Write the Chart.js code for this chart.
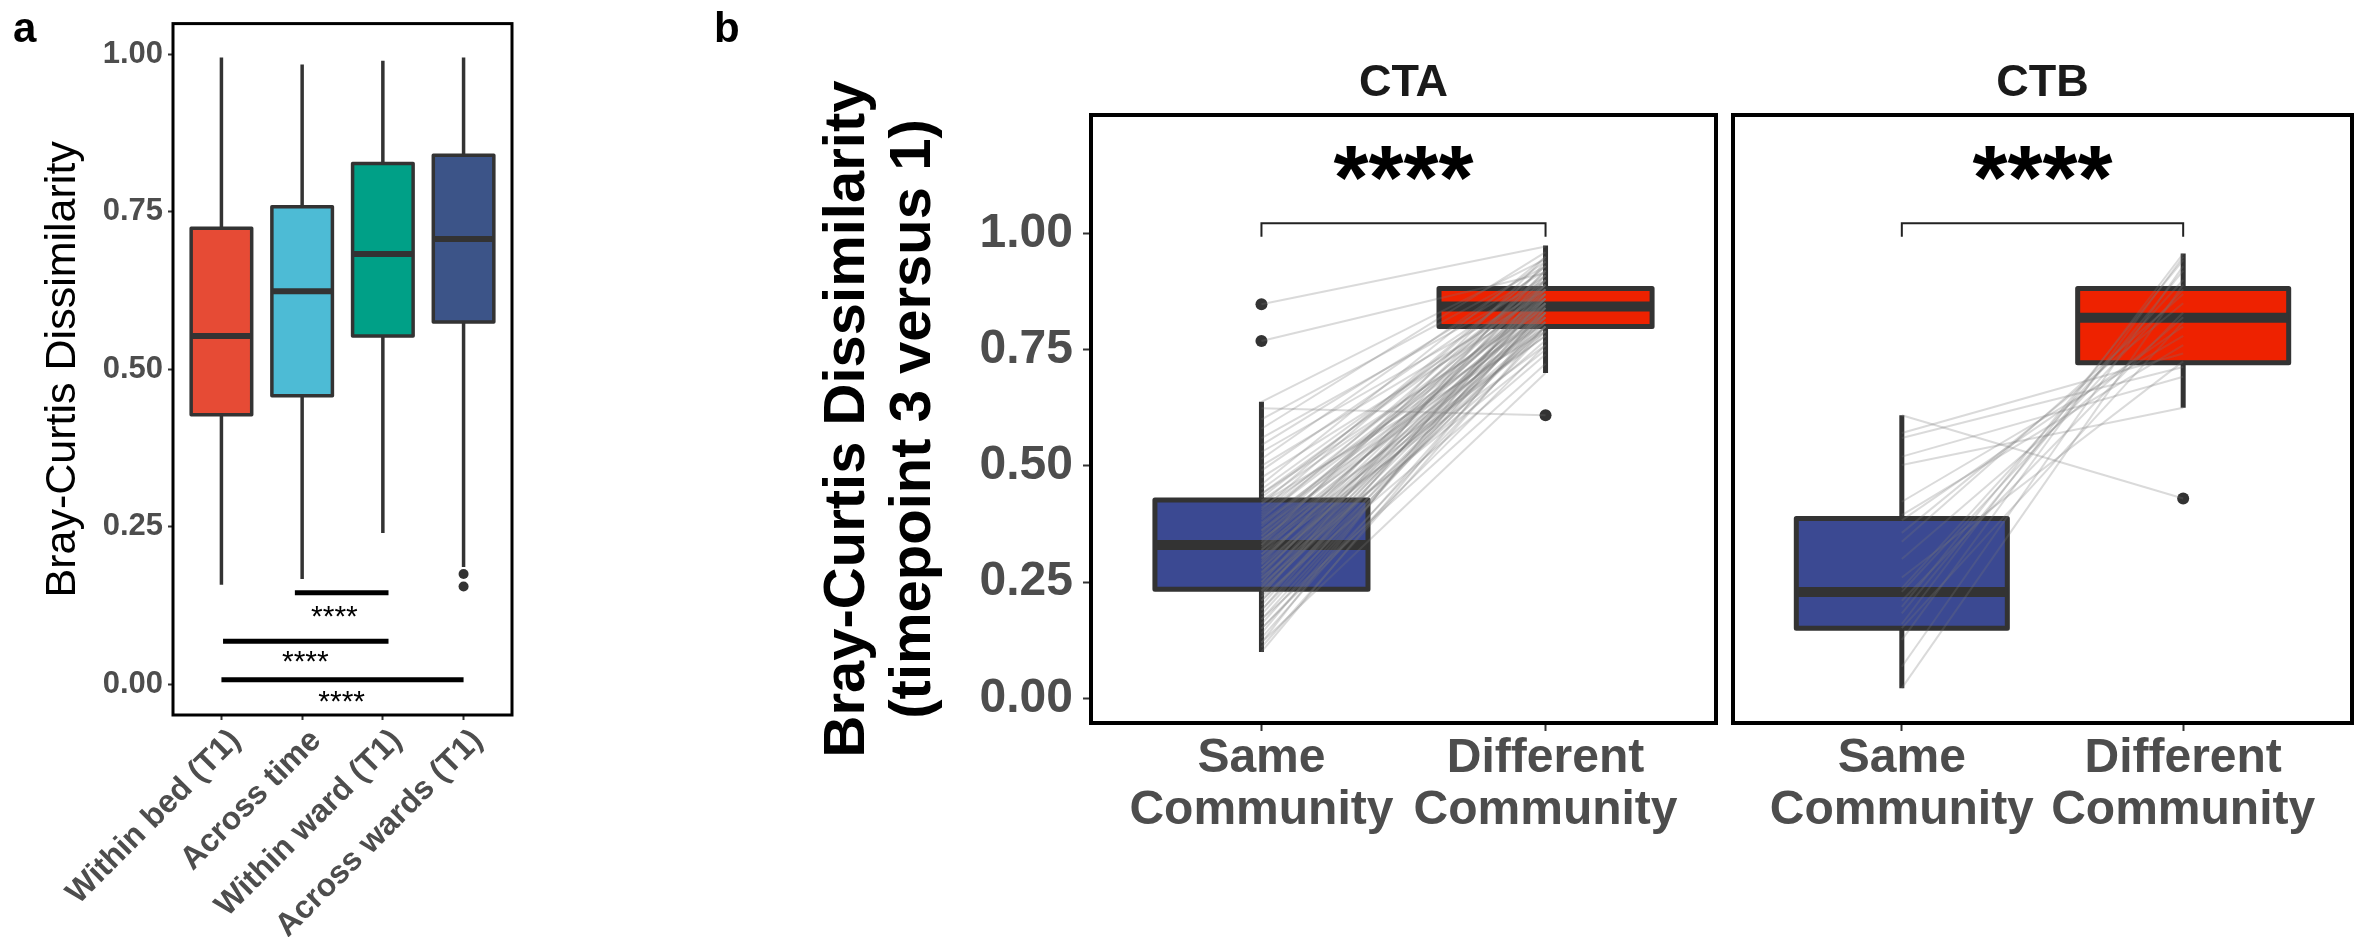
<!DOCTYPE html>
<html>
<head>
<meta charset="utf-8">
<script src="https://cdn.jsdelivr.net/npm/chart.js@4.4.1/dist/chart.umd.min.js"></script>
<style>
  html, body { margin: 0; padding: 0; background: #fff; }
  #wrap { position: relative; width: 2358px; height: 937px; overflow: hidden; }
  canvas { position: absolute; top: 0; }
</style>
</head>
<body>
<div id="wrap">
  <canvas id="chartA" width="530" height="937" style="left:0px"></canvas>
  <canvas id="chartCTA" width="1022" height="937" style="left:700px"></canvas>
  <canvas id="chartCTB" width="636" height="937" style="left:1722px"></canvas>
</div>
<script>
// ---- panel a : pairwise Bray-Curtis by comparison type ----
const catA = ['Within bed (T1)', 'Across time', 'Within ward (T1)', 'Across wards (T1)'];
const posA = [1, 2, 3, 4];
const lowA = [0.158, 0.167, 0.240, 0.186];
const q1A = [0.428, 0.458, 0.553, 0.575];
const medA = [0.553, 0.624, 0.683, 0.707];
const q3A = [0.724, 0.758, 0.827, 0.840];
const highA = [0.995, 0.984, 0.990, 0.995];
const outXA = [4, 4];
const outYA = [0.175, 0.155];
const sigFromA = [1.91, 1.02, 1.00];
const sigToA = [3.07, 3.07, 4.00];
const sigYA = [0.145, 0.068, 0.007];
const sigTextXA = [2.40, 2.04, 2.49];
const sigTextYA = [0.115, 0.044, -0.019];
const sigTextA = ['****', '****', '****'];

// ---- panel b : CTA / CTB, timepoint 3 vs 1 ----
const yTicks = [0, 0.25, 0.5, 0.75, 1];
const catB = [['Same', 'Community'], ['Different', 'Community']];
const posB = [1, 2];

const ctaLow = [0.100, 0.700];
const ctaQ1 = [0.235, 0.800];
const ctaMed = [0.330, 0.843];
const ctaQ3 = [0.427, 0.882];
const ctaHigh = [0.638, 0.974];
const ctaOutX = [1, 1, 2];
const ctaOutY = [0.848, 0.769, 0.609];

const ctbLow = [0.022, 0.625];
const ctbQ1 = [0.151, 0.722];
const ctbMed = [0.229, 0.819];
const ctbQ3 = [0.387, 0.882];
const ctbHigh = [0.609, 0.957];
const ctbOutX = [2];
const ctbOutY = [0.430];

// paired samples (same community value -> different community value)
const ctaSame = [0.848, 0.769, 0.638, 0.624, 0.60, 0.58, 0.56, 0.545, 0.53, 0.515, 0.50, 0.49, 0.475, 0.46, 0.45, 0.44, 0.432,
  0.425, 0.418, 0.41, 0.40, 0.395, 0.385, 0.378, 0.37, 0.362, 0.355, 0.348, 0.342, 0.336,
  0.33, 0.325, 0.318, 0.31, 0.302, 0.295, 0.288, 0.28, 0.272, 0.265, 0.258, 0.25, 0.245, 0.238,
  0.232, 0.225, 0.218, 0.21, 0.20, 0.19, 0.18, 0.17, 0.16, 0.15, 0.14, 0.13, 0.12, 0.11, 0.10,
  0.44, 0.42, 0.405, 0.39, 0.375, 0.36, 0.35, 0.34, 0.33, 0.32, 0.31, 0.30, 0.29, 0.28, 0.27,
  0.26, 0.25, 0.24, 0.23, 0.22, 0.21, 0.19, 0.17, 0.15, 0.12];
const ctaDiff = [0.972, 0.915, 0.945, 0.609, 0.93, 0.96, 0.90, 0.92, 0.88, 0.94, 0.87, 0.91, 0.86, 0.95, 0.89, 0.84, 0.90,
  0.85, 0.93, 0.82, 0.88, 0.86, 0.91, 0.83, 0.87, 0.80, 0.89, 0.845, 0.78, 0.92,
  0.85, 0.81, 0.87, 0.76, 0.84, 0.88, 0.79, 0.86, 0.83, 0.90, 0.82, 0.87, 0.77, 0.84,
  0.80, 0.86, 0.74, 0.83, 0.88, 0.81, 0.85, 0.72, 0.84, 0.79, 0.87, 0.82, 0.70, 0.80, 0.83,
  0.88, 0.79, 0.93, 0.85, 0.81, 0.90, 0.86, 0.83, 0.95, 0.78, 0.89, 0.82, 0.92, 0.80, 0.85,
  0.75, 0.91, 0.86, 0.83, 0.94, 0.80, 0.89, 0.84, 0.76, 0.90];
const ctbSame = [0.609, 0.571, 0.560, 0.520, 0.502, 0.423, 0.394, 0.383, 0.356, 0.337, 0.300,
  0.260, 0.237, 0.229, 0.210, 0.197, 0.183, 0.160, 0.151, 0.126, 0.068, 0.022];
const ctbDiff = [0.430, 0.742, 0.713, 0.692, 0.625, 0.780, 0.760, 0.800, 0.850, 0.870, 0.820,
  0.725, 0.900, 0.880, 0.830, 0.943, 0.920, 0.957, 0.810, 0.950, 0.930, 0.890];
const bracketY = 1.022;
const bracketDrop = 0.993;
const starY = 1.151;

const DARK = '#333333';
const GREY_TXT = '#4D4D4D';
const FILL_A = ['#E64B35', '#4DBBD5', '#00A087', '#3C5488'];
const FILL_B = ['#3B4992', '#EE2200'];
const PAIR_COL = 'rgba(120,120,120,0.27)';
const BOX_HALF = 0.375;

Chart.defaults.font.family = "'Liberation Sans', Arial, sans-serif";
Chart.defaults.animation = false;
Chart.defaults.plugins.legend.display = false;
Chart.defaults.plugins.tooltip.enabled = false;
Chart.defaults.elements.point.radius = 0;
Chart.defaults.elements.line.tension = 0;

// panel border like ggplot panel.border
const frame = {
  id: 'frame',
  afterDatasetsDraw(chart, args, o) {
    const { ctx, chartArea: a } = chart;
    ctx.save();
    ctx.strokeStyle = '#000';
    ctx.lineWidth = o.width || 3;
    ctx.strokeRect(a.left, a.top, a.right - a.left, a.bottom - a.top);
    ctx.restore();
  }
};

// free text: panel letters, strip titles, significance stars
const notes = {
  id: 'notes',
  afterDraw(chart, args, o) {
    const { ctx, chartArea: ca } = chart;
    const xs = chart.scales.x, ys = chart.scales.y;
    ctx.save();
    (o.items || []).forEach(t => {
      ctx.font = t.font;
      ctx.fillStyle = t.color || '#000';
      ctx.textAlign = t.align || 'center';
      ctx.textBaseline = 'alphabetic';
      let px = t.x, py = t.y;
      if (t.data) { px = xs.getPixelForValue(t.x); py = ys.getPixelForValue(t.y); }
      if (t.strip) px = (ca.left + ca.right) / 2;
      if (t.vcenter) {
        const m = ctx.measureText(t.text);
        py += (m.actualBoundingBoxAscent - m.actualBoundingBoxDescent) / 2;
      }
      ctx.fillText(t.text, px, py);
    });
    ctx.restore();
  }
};

function boxSets(pos, low, q1, med, q3, high, fills, lw, mw) {
  const sets = [];
  pos.forEach((c, i) => {
    const h = BOX_HALF;
    sets.push({ data: [{ x: c, y: low[i] }, { x: c, y: q1[i] }, { x: c, y: null }, { x: c, y: q3[i] }, { x: c, y: high[i] }],
      borderColor: DARK, borderWidth: lw, spanGaps: false, order: 4 });
    sets.push({ data: [{ x: c - h, y: q1[i] }, { x: c + h, y: q1[i] }, { x: c + h, y: q3[i] }, { x: c - h, y: q3[i] }, { x: c - h, y: q1[i] }],
      borderColor: DARK, borderWidth: lw, backgroundColor: fills[i], fill: 'shape',
      borderJoinStyle: 'round', borderCapStyle: 'round', order: 3 });
    sets.push({ data: [{ x: c - h, y: med[i] }, { x: c + h, y: med[i] }], borderColor: DARK, borderWidth: mw, order: 2 });
  });
  return sets;
}

function outlierSet(xs, ys, r) {
  return { data: xs.map((x, i) => ({ x: x, y: ys[i] })), showLine: false, pointRadius: r,
    pointBackgroundColor: DARK, pointBorderWidth: 0, order: 1 };
}

function pairSets(same, diff) {
  return same.map((s, i) => ({ data: [{ x: posB[0], y: s }, { x: posB[1], y: diff[i] }],
    borderColor: PAIR_COL, borderWidth: 2, order: 0 }));
}

function bracketSet() {
  return { data: [{ x: posB[0], y: bracketDrop }, { x: posB[0], y: bracketY }, { x: posB[1], y: bracketY }, { x: posB[1], y: bracketDrop }],
    borderColor: '#222', borderWidth: 2, order: 0 };
}

function panel(id, datasets, cfg) {
  return new Chart(document.getElementById(id), {
    type: 'line',
    data: { datasets: datasets },
    options: {
      responsive: false,
      layout: { padding: cfg.pad },
      plugins: { filler: { drawTime: 'beforeDatasetDraw' }, frame: { width: cfg.frame }, notes: { items: cfg.notes } },
      scales: {
        x: {
          type: 'linear', min: cfg.xMin, max: cfg.xMax,
          afterBuildTicks: s => { s.ticks = cfg.xPos.map(v => ({ value: v })); },
          afterFit: s => { s.height = cfg.xH; },
          ticks: { autoSkip: false, callback: (v, i) => cfg.xLabels[i], color: GREY_TXT,
            font: cfg.xFont, padding: cfg.xPad, minRotation: cfg.rot, maxRotation: cfg.rot,
            labelOffset: cfg.xOff || 0 },
          grid: { drawOnChartArea: false, tickLength: cfg.tick, tickWidth: 2, tickColor: DARK },
          border: { display: false }
        },
        y: {
          type: 'linear', min: cfg.yMin, max: cfg.yMax, display: cfg.yShow,
          afterBuildTicks: s => { s.ticks = yTicks.map(v => ({ value: v })); },
          afterFit: s => { s.width = cfg.yW; },
          ticks: { callback: v => v.toFixed(2), color: GREY_TXT, font: cfg.yFont, padding: cfg.yPad },
          grid: { drawOnChartArea: false, tickLength: cfg.tick, tickWidth: 2, tickColor: DARK },
          border: { display: false },
          title: cfg.yTitle || { display: false }
        }
      }
    },
    plugins: [frame, notes]
  });
}

// panel a
const setsA = boxSets(posA, lowA, q1A, medA, q3A, highA, FILL_A, 3.5, 6)
  .concat([outlierSet(outXA, outYA, 5)])
  .concat(sigFromA.map((f, i) => ({ data: [{ x: f, y: sigYA[i] }, { x: sigToA[i], y: sigYA[i] }],
    borderColor: '#000', borderWidth: 5, order: 0 })));
const notesA = [{ text: 'a', x: 13, y: 42, align: 'left', font: 'bold 42px "Liberation Sans", Arial' }]
  .concat(sigTextA.map((t, i) => ({ text: t, data: true, x: sigTextXA[i], y: sigTextYA[i], vcenter: true,
    font: '30px "Liberation Sans", Arial' })));
panel('chartA', setsA, {
  pad: { top: 23, right: 18, left: 0, bottom: 0 }, frame: 3,
  xMin: 0.4, xMax: 4.6, xPos: posA, xLabels: catA, xH: 222, rot: 45, xPad: 2, xOff: 14,
  xFont: { size: 32, weight: 'bold' }, tick: 5,
  yMin: -0.049, yMax: 1.049, yShow: true, yW: 173, yPad: 5, yFont: { size: 31, weight: 'bold' },
  yTitle: { display: true, text: 'Bray-Curtis Dissimilarity', color: '#000',
    font: { size: 43, weight: 'normal', lineHeight: 1.2 }, padding: { top: 37, bottom: 0 } },
  notes: notesA
});

// panel b - CTA
const setsCTA = pairSets(ctaSame, ctaDiff)
  .concat(boxSets(posB, ctaLow, ctaQ1, ctaMed, ctaQ3, ctaHigh, FILL_B, 5, 10))
  .concat([outlierSet(ctaOutX, ctaOutY, 6), bracketSet()]);
panel('chartCTA', setsCTA, {
  pad: { top: 115, right: 6, left: 0, bottom: 0 }, frame: 4,
  xMin: 0.4, xMax: 2.6, xPos: posB, xLabels: catB, xH: 214, rot: 0, xPad: 2,
  xFont: { size: 48, weight: 'bold', lineHeight: 1.08 }, tick: 8,
  yMin: -0.053, yMax: 1.255, yShow: true, yW: 391, yPad: 10, yFont: { size: 48, weight: 'bold' },
  yTitle: { display: true, text: ['Bray-Curtis Dissimilarity', '(timepoint 3 versus 1)'], color: '#000',
    font: { size: 58, weight: 'bold', lineHeight: 1.14 }, padding: { top: 115, bottom: 0 } },
  notes: [
    { text: 'b', x: 14, y: 42, align: 'left', font: 'bold 42px "Liberation Sans", Arial' },
    { text: 'CTA', strip: true, y: 80.5, vcenter: true, color: '#1A1A1A', font: 'bold 45px "Liberation Sans", Arial' },
    { text: '****', data: true, x: 1.5, y: starY, vcenter: true, font: 'bold 90px "Liberation Sans", Arial' }
  ]
});

// panel b - CTB
const setsCTB = pairSets(ctbSame, ctbDiff)
  .concat(boxSets(posB, ctbLow, ctbQ1, ctbMed, ctbQ3, ctbHigh, FILL_B, 5, 10))
  .concat([outlierSet(ctbOutX, ctbOutY, 6), bracketSet()]);
panel('chartCTB', setsCTB, {
  pad: { top: 115, right: 2, left: 11, bottom: 0 }, frame: 4,
  xMin: 0.4, xMax: 2.6, xPos: posB, xLabels: catB, xH: 214, rot: 0, xPad: 2,
  xFont: { size: 48, weight: 'bold', lineHeight: 1.08 }, tick: 8,
  yMin: -0.053, yMax: 1.255, yShow: false, yW: 0, yPad: 10, yFont: { size: 48, weight: 'bold' },
  notes: [
    { text: 'CTB', strip: true, y: 80.5, vcenter: true, color: '#1A1A1A', font: 'bold 45px "Liberation Sans", Arial' },
    { text: '****', data: true, x: 1.5, y: starY, vcenter: true, font: 'bold 90px "Liberation Sans", Arial' }
  ]
});
</script>
</body>
</html>
